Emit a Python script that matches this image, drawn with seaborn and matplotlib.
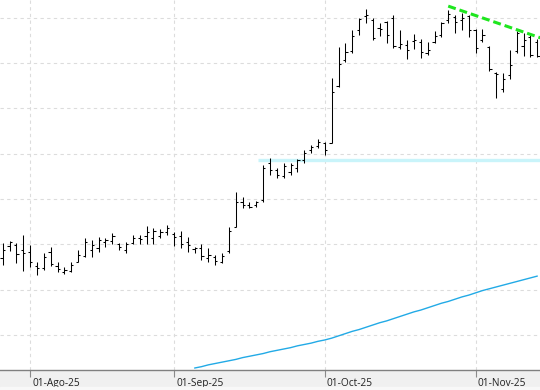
import matplotlib
matplotlib.use("Agg")
import matplotlib.pyplot as plt
from matplotlib.transforms import ScaledTranslation
from matplotlib.patches import Rectangle
import seaborn as sns

# daily OHLC, one entry per trading day (bar 0 = late July 2025)
opens = [11.70, 11.96, 11.99, 11.88, 11.83, 11.52, 11.48, 11.83, 11.52, 11.39,
         11.41, 11.61, 11.74, 11.88, 11.92, 12.05, 12.07, 12.01, 11.88, 12.03,
         12.14, 12.19, 12.14, 12.19, 12.27, 12.23, 12.19, 12.05, 11.90, 11.92,
         11.70, 11.72, 11.61, 11.85, 12.38, 12.94, 12.87, 12.87, 12.98, 13.80,
         13.64, 13.51, 13.60, 13.69, 13.86, 14.08, 14.17, 14.24, 14.24, 15.50,
         16.07, 16.27, 16.73, 17.04, 16.95, 16.78, 16.91, 17.00, 16.36, 16.40,
         16.49, 16.47, 16.22, 16.47, 16.62, 16.95, 17.02, 16.95, 17.04, 16.73,
         16.51, 16.36, 15.78, 15.43, 15.74, 16.28, 16.38, 16.58, 16.47]
highs = [12.03, 12.08, 12.03, 12.21, 11.99, 11.62, 11.81, 11.95, 11.61, 11.51,
         11.61, 11.88, 12.15, 12.09, 12.17, 12.15, 12.25, 12.04, 12.05, 12.21,
         12.21, 12.41, 12.36, 12.33, 12.43, 12.28, 12.30, 12.16, 11.94, 12.01,
         11.91, 11.77, 11.80, 12.38, 13.15, 13.04, 12.94, 12.96, 13.75, 13.90,
         13.68, 13.79, 13.79, 13.88, 14.08, 14.19, 14.32, 14.27, 15.67, 16.36,
         16.45, 16.73, 16.99, 17.19, 16.99, 16.89, 16.94, 17.06, 16.73, 16.51,
         16.64, 16.53, 16.47, 16.70, 16.92, 17.17, 17.06, 17.10, 17.06, 16.75,
         16.75, 16.38, 15.81, 15.79, 16.29, 16.72, 16.67, 16.62, 16.53]
lows = [11.55, 11.85, 11.59, 11.41, 11.50, 11.32, 11.43, 11.52, 11.40, 11.35,
        11.39, 11.61, 11.72, 11.73, 11.83, 11.95, 12.01, 11.88, 11.81, 12.01,
        12.01, 12.01, 12.01, 12.13, 12.21, 11.96, 11.91, 11.84, 11.82, 11.66,
        11.62, 11.55, 11.58, 11.80, 12.38, 12.80, 12.80, 12.83, 12.94, 13.53,
        13.46, 13.46, 13.53, 13.60, 13.79, 14.02, 14.12, 13.97, 14.23, 15.48,
        16.03, 16.23, 16.62, 16.89, 16.51, 16.59, 16.45, 16.34, 16.31, 16.09,
        16.31, 16.11, 16.18, 16.44, 16.58, 16.89, 16.67, 16.74, 16.58, 16.23,
        16.47, 15.83, 15.23, 15.37, 15.65, 16.23, 16.16, 16.14, 16.14]
closes = [11.88, 12.05, 11.79, 11.81, 11.61, 11.48, 11.72, 11.57, 11.46, 11.43,
          11.55, 11.77, 12.05, 11.99, 12.10, 12.10, 12.19, 11.94, 12.01, 12.14,
          12.12, 12.27, 12.30, 12.27, 12.36, 12.16, 12.01, 11.99, 11.91, 11.74,
          11.77, 11.63, 11.74, 12.30, 12.94, 12.87, 12.83, 12.94, 13.69, 13.64,
          13.53, 13.73, 13.75, 13.86, 14.02, 14.15, 14.26, 14.08, 15.36, 15.98,
          16.25, 16.60, 16.98, 17.06, 16.56, 16.75, 16.62, 16.38, 16.42, 16.29,
          16.51, 16.25, 16.29, 16.60, 16.89, 17.09, 16.92, 17.00, 16.73, 16.34,
          16.62, 15.87, 15.76, 15.65, 15.96, 16.67, 16.51, 16.18, 16.16]

# long moving average, visible from bar 28 onwards
ma_start = 28
ma_values = [9.27, 9.30, 9.34, 9.37, 9.40, 9.43, 9.46, 9.50,
             9.53, 9.56, 9.59, 9.63, 9.66, 9.69, 9.72, 9.76, 9.79, 9.82,
             9.86, 9.89, 9.93, 9.98, 10.03, 10.08, 10.12, 10.17, 10.22, 10.27,
             10.31, 10.36, 10.41, 10.46, 10.51, 10.55, 10.60, 10.65, 10.70, 10.74,
             10.79, 10.84, 10.88, 10.93, 10.98, 11.02, 11.06, 11.10, 11.14, 11.18,
             11.22, 11.26, 11.30]

support_level = 13.87
support_from = 37.3
trend_x = [65.0, 78.45]
trend_y = [17.26, 16.56]

tick_bars = [4, 25, 47, 69]
tick_labels = ["01-Ago-25", "01-Sep-25", "01-Oct-25", "01-Nov-25"]

sns.set_style("white")
plt.rcParams["font.family"] = ["Open Sans", "DejaVu Sans"]

fig = plt.figure(figsize=(5.4, 3.9), dpi=100, facecolor="#f0f0f0")
fig.patches.append(Rectangle((0, 0), 1, 3 / 390, transform=fig.transFigure,
                             color="#f8f8f8", zorder=0))
ax = fig.add_axes([0, 19.7 / 390, 1, 370.3 / 390])
ax.set_facecolor("white")

bars = list(range(len(opens)))
xmin, xmax = -0.39, 78.39
ax.set_xlim(xmin, xmax)
ax.set_ylim(9.22, 17.395)

# grid
ax.set_yticks(range(10, 18))
ax.set_xticks(tick_bars, tick_labels)
ax.grid(True, color="#dcdcdc", linestyle=(0, (3, 3)), linewidth=0.8)
ax.tick_params(axis="y", left=False, labelleft=False)
ax.tick_params(axis="x", bottom=True, direction="out", length=5, width=0.8,
               color="#8a8a8a", pad=0.5, labelsize=7.3, labelcolor="#222222")
for lab in ax.get_xticklabels():
    lab.set_ha("left")
    lab.set_transform(lab.get_transform() + ScaledTranslation(2 / 100, 0, fig.dpi_scale_trans))

for s in ["top", "left", "right"]:
    ax.spines[s].set_visible(False)
ax.spines["bottom"].set_color("#808080")
ax.spines["bottom"].set_linewidth(1.0)

# support line and trend line
ax.hlines(support_level, support_from, xmax, color="#c9f4fa", linewidth=2.4, zorder=2)

ma_x = list(range(ma_start, ma_start + len(ma_values)))
sns.lineplot(x=ma_x, y=ma_values, ax=ax, color="#22aae6", linewidth=1.0, zorder=3)

# OHLC bars
ax.vlines(bars, lows, highs, color="black", linewidth=0.75, zorder=4)
ax.hlines(opens, [b - 0.32 for b in bars], bars, color="black", linewidth=0.75, zorder=4)
ax.hlines(closes, bars, [b + 0.32 for b in bars], color="black", linewidth=0.75, zorder=4)

ax.plot(trend_x, trend_y, color="#1ee61e", linewidth=2.2,
        linestyle=(0, (2.6, 1.3)), zorder=5, solid_capstyle="butt")

fig.savefig("out.png", dpi=100, facecolor=fig.get_facecolor())
